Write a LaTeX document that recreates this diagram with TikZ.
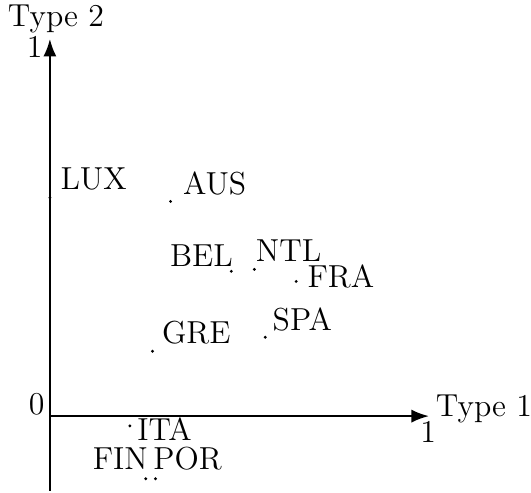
\documentclass[tikz,border=0pt]{standalone}
\usetikzlibrary{arrows.meta}

\begin{document}
\begin{tikzpicture}[x=5cm,y=5cm]
        \tikzstyle{every node}=[inner sep=0pt, font=\large]
        \tikzstyle{axis}=[thick, -{Latex}]
        \tikzstyle{pt}=[fill=black]
        \useasboundingbox (-0.1323,-0.2037) rectangle (1.2755,1.1032);
        % axes
        \coordinate (o) at (0,0);
        \coordinate (xend) at (1.005,0);
        \coordinate (yend) at (0,1);
        \coordinate (ybot) at (0,-0.198);
        \draw[axis] (o) -- (xend);
        \draw[axis] (ybot) -- (yend);
        \node[anchor=base east] (zero) at (-0.013,0.003) {0};
        \node[anchor=base] (xone) at (1.003,-0.069) {1};
        \node[anchor=base east] (yone) at (-0.0185,0.950) {1};
        \node[anchor=base west] (xlab) at (1.022,0) {Type 1};
        \node[anchor=base] (ylab) at (0.016,1.032) {Type 2};
        % countries
        \coordinate (lux) at (0,0.579);
        \coordinate (aus) at (0.320,0.569);
        \coordinate (bel) at (0.481,0.384);
        \coordinate (ntl) at (0.542,0.389);
        \coordinate (fra) at (0.653,0.357);
        \coordinate (spa) at (0.571,0.209);
        \coordinate (gre) at (0.272,0.172);
        \coordinate (ita) at (0.212,-0.026);
        \coordinate (fin) at (0.254,-0.166);
        \coordinate (por) at (0.280,-0.166);
        \foreach \c in {lux,aus,bel,ntl,fra,spa,gre,ita,fin,por}
            \fill[pt] (\c) circle (0.6pt);
        \node[anchor=base west, xshift=3.8pt, yshift=3pt] (luxlab) at (lux) {LUX};
        \node[anchor=base west, xshift=4.5pt, yshift=2.6pt] (auslab) at (aus) {AUS};
        \node[anchor=base east, xshift=0.75pt, yshift=1.9pt] (bellab) at (bel) {BEL};
        \node[anchor=base west, xshift=0.4pt, yshift=3pt] (ntllab) at (ntl) {NTL};
        \node[anchor=base west, xshift=4.1pt, yshift=-2.3pt] (fralab) at (fra) {FRA};
        \node[anchor=base west, xshift=2.6pt, yshift=2.6pt] (spalab) at (spa) {SPA};
        \node[anchor=base west, xshift=3.4pt, yshift=3pt] (grelab) at (gre) {GRE};
        \node[anchor=base west, xshift=2.6pt, yshift=-5.6pt] (italab) at (ita) {ITA};
        \node[anchor=base east, xshift=1pt, yshift=3.5pt] (finlab) at (fin) {FIN};
        \node[anchor=base west, xshift=-1pt, yshift=3.5pt] (porlab) at (por) {POR};
    \end{tikzpicture}
\end{document}
